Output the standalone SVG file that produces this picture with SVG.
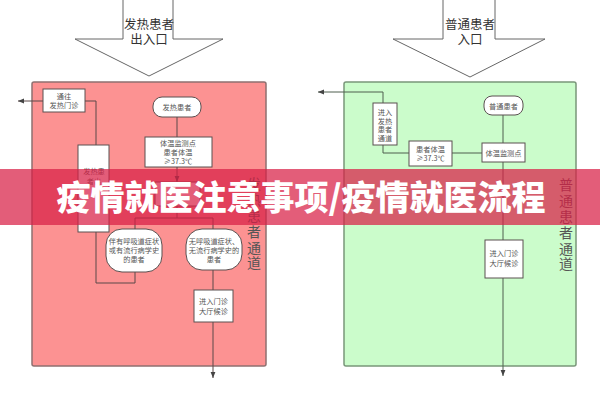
<svg xmlns="http://www.w3.org/2000/svg" width="600" height="400" viewBox="0 0 600 400">
<defs>
<style>
.bg{fill:#ffffff}
.panel-red{fill:#fc9292;stroke:#8f7070;stroke-width:1.5}
.panel-green{fill:#cbfccb;stroke:#7a967a;stroke-width:1.5}
.box{fill:#ffffff;stroke:#5a5050;stroke-width:1}
.big{fill:#ffffff;stroke:#666;stroke-width:1}
.ln{fill:none;stroke:#5a4848;stroke-width:1}
.lng{fill:none;stroke:#4f5f4f;stroke-width:1}
.t{font-family:"Noto Sans CJK SC","Noto Sans",sans-serif;font-size:7.2px;fill:#555;text-anchor:middle}
.tb{font-family:"Noto Sans CJK SC","Noto Sans",sans-serif;font-size:12.5px;fill:#333;text-anchor:middle}
.tv{font-family:"Noto Sans CJK SC","Noto Sans",sans-serif;font-size:14px;fill:#555;writing-mode:vertical-rl;letter-spacing:1.8px}
.banner{fill:#d81e45;fill-opacity:0.72}
.title{font-family:"Noto Sans CJK SC","Noto Sans",sans-serif;font-size:34px;font-weight:900;fill:#ffffff;text-anchor:middle}
</style>
<marker id="ah" viewBox="0 0 10 10" refX="10" refY="5" markerWidth="6" markerHeight="6" orient="auto" markerUnits="userSpaceOnUse">
<path d="M0,1 L10,5 L0,9 Z" fill="#444"/>
</marker>
</defs>
<rect class="bg" x="0" y="0" width="600" height="400"/>

<rect class="panel-red" x="32" y="82" width="234" height="284" rx="2"/>
<rect class="panel-green" x="344" y="82" width="232" height="284" rx="2"/>

<g id="entry-fever">
<path class="big" d="M123,-2 V39 H75 L149,76 L223,39 H173 V-2"/>
<text class="tb" x="149" y="29">发热患者</text>
<text class="tb" x="149" y="44">出入口</text>
</g>
<g id="entry-normal">
<path class="big" d="M443,-2 V39 H393 L470,77 L545,39 H495 V-2"/>
<text class="tb" x="470" y="29">普通患者</text>
<text class="tb" x="470" y="44">入口</text>
</g>

<g id="connectors">
<path class="ln" d="M43,101 H18" marker-end="url(#ah)"/>
<path class="ln" d="M85,101 H96 V145"/>
<path class="ln" d="M96,232 V283 H135 V272"/>
<path class="ln" d="M177,117 V137"/>
<path class="ln" d="M177,167 V182" marker-end="url(#ah)"/>
<path class="ln" d="M177,206 V218 M135,229 V218 H213 V229"/>
<path class="ln" d="M213,270 V290"/>
<path class="ln" d="M213,322 V378" marker-end="url(#ah)"/>
<path class="lng" d="M503,115 V143"/>
<path class="lng" d="M482,153 H452"/>
<path class="lng" d="M409,153 H383 V145"/>
<path class="lng" d="M383,103 V92 H318" marker-end="url(#ah)"/>
<path class="lng" d="M503,162 V240"/>
<path class="lng" d="M503,278 V376" marker-end="url(#ah)"/>
</g>

<g id="to-fever-clinic">
<rect class="box" x="43" y="89" width="42" height="23"/>
<text class="t" x="64" y="99">通往</text>
<text class="t" x="64" y="108">发热门诊</text>
</g>
<g id="fever-outlet">
<rect class="box" x="78" y="145" width="31" height="87"/>
<text class="t" x="94" y="174">发热患</text>
<text class="t" x="94" y="184">者出</text>
</g>
<g id="fever-patient">
<rect class="box" x="153" y="97" width="48" height="20" rx="9"/>
<text class="t" x="177" y="110">发热患者</text>
</g>
<g id="temp-check-fever">
<rect class="box" x="145" y="137" width="67" height="30"/>
<text class="t" x="178" y="146">体温监测点</text>
<text class="t" x="178" y="155">患者体温</text>
<text class="t" x="178" y="164">≥37.3℃</text>
</g>
<g id="decision">
<rect class="box" x="155" y="182" width="45" height="24"/>
</g>
<g id="resp-symptoms">
<rect class="box" x="106" y="229" width="56" height="43" rx="16"/>
<text class="t" x="134" y="244">伴有呼吸道症状</text>
<text class="t" x="134" y="253">或有流行病学史</text>
<text class="t" x="134" y="262">的患者</text>
</g>
<g id="no-symptoms">
<rect class="box" x="186" y="229" width="56" height="41" rx="16"/>
<text class="t" x="214" y="244">无呼吸道症状、</text>
<text class="t" x="214" y="253">无流行病学史的</text>
<text class="t" x="214" y="262">患者</text>
</g>
<g id="enter-hall-fever">
<rect class="box" x="194" y="290" width="39" height="32"/>
<text class="t" x="213.5" y="304">进入门诊</text>
<text class="t" x="213.5" y="314">大厅候诊</text>
</g>
<g id="label-fever-channel">
<text class="tv" x="254" y="177">发热患者通道</text>
</g>

<g id="normal-patient">
<rect class="box" x="484" y="96" width="39" height="19" rx="8"/>
<text class="t" x="503.5" y="108.5">普通患者</text>
</g>
<g id="temp-check-normal">
<rect class="box" x="482" y="143" width="43" height="19"/>
<text class="t" x="503.5" y="155.5">体温监测点</text>
</g>
<g id="temp-high">
<rect class="box" x="409" y="141" width="43" height="25"/>
<text class="t" x="430.5" y="152">患者体温</text>
<text class="t" x="430.5" y="161">≥37.3℃</text>
</g>
<g id="enter-fever-channel">
<rect class="box" x="373" y="103" width="24" height="42"/>
<text class="t" x="385" y="115">进入</text>
<text class="t" x="385" y="124">发热</text>
<text class="t" x="385" y="132">患者</text>
<text class="t" x="385" y="141">通道</text>
</g>
<g id="enter-hall-normal">
<rect class="box" x="485" y="240" width="38" height="38"/>
<text class="t" x="504" y="256">进入门诊</text>
<text class="t" x="504" y="266">大厅候诊</text>
</g>
<g id="label-normal-channel">
<text class="tv" x="566" y="178">普通患者通道</text>
</g>

<g id="banner">
<rect class="banner" x="0" y="169" width="600" height="56"/>
<text class="title" x="301" y="210">疫情就医注意事项/疫情就医流程</text>
</g>
</svg>
